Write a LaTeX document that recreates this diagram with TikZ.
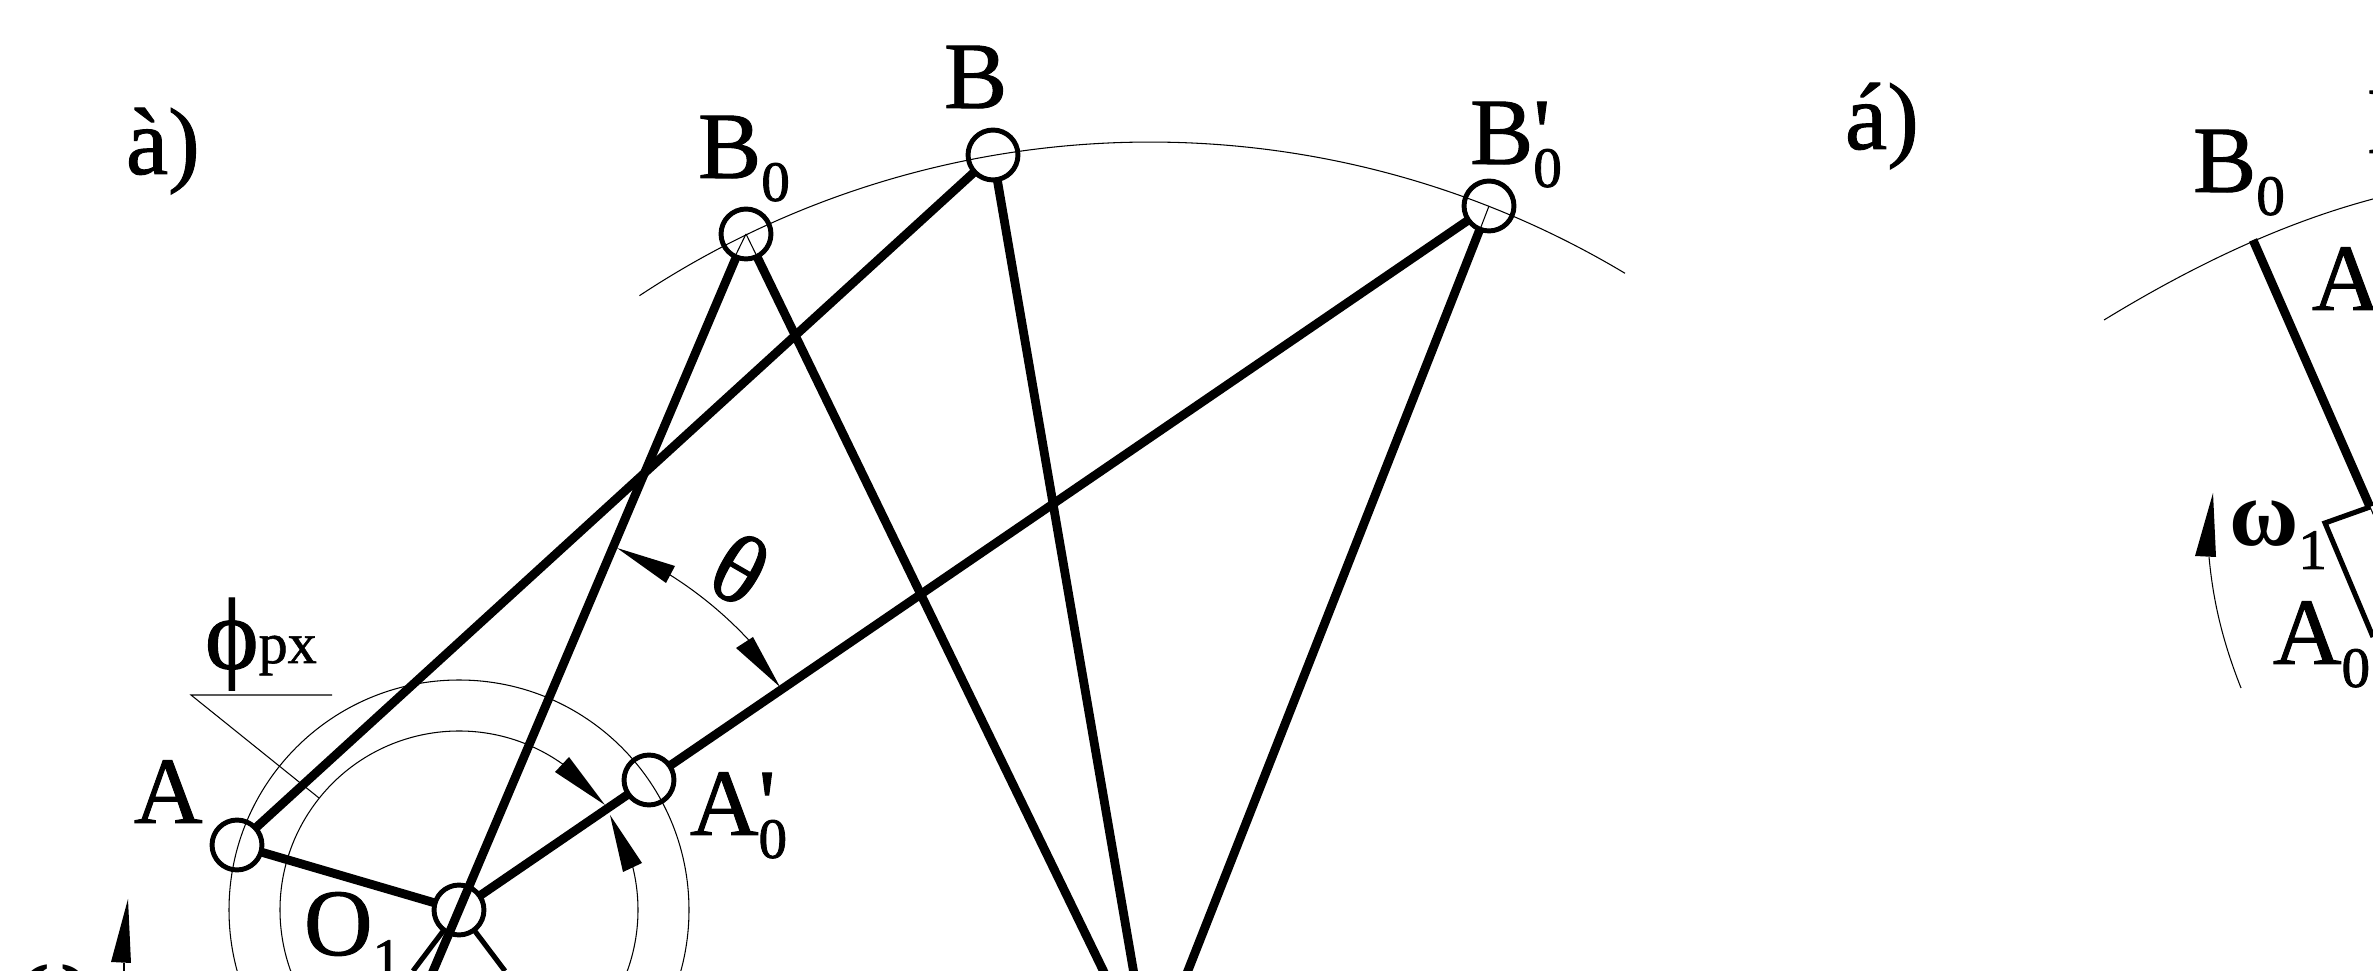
\documentclass[tikz,border=0pt]{standalone}
\usepackage{fontspec}
\setmainfont{Liberation Serif}
\newfontfamily\mainheavy[RawFeature={embolden=1}]{Liberation Serif}
\newfontfamily\subheavy[RawFeature={embolden=1.5}]{Liberation Serif}
\newfontfamily\omegaf{Liberation Serif Bold}
\usetikzlibrary{calc}
\newcommand{\lowz}[1]{\raisebox{-6.5pt}{\subheavy\fontsize{16.2pt}{16.2pt}\selectfont #1}}
\newcommand{\primed}[1]{\rlap{'}\lowz{#1}}
\tikzset{
  lbl/.style={inner sep=0pt,outer sep=0pt,anchor=base west,font=\mainheavy\fontsize{27pt}{27pt}\selectfont},
  heavy/.style={line width=2.5pt,line cap=butt},
  medium/.style={line width=1.45pt},
  hair/.style={line width=0.3pt},
  joint/.style={circle,draw,line width=1.4pt,minimum size=14.2pt,inner sep=0pt,outer sep=0pt},
  tipfill/.style={fill=black,draw=none}
}
\begin{document}
\begin{tikzpicture}[x=0.01cm,y=0.01cm]
\useasboundingbox (0,0) rectangle (2373,-971);
\clip (0,0) rectangle (2373,-971);
% key points
\coordinate (C) at (1150,-1067);
\node[joint] (O1) at (459,-910) {};
\node[joint] (A) at (237,-845) {};
\node[joint] (Ap) at (649,-780) {};
\node[joint] (B0) at (746,-234) {};
\node[joint] (B) at (993,-155) {};
\node[joint] (Bp) at (1489,-206) {};
% thin circles and arcs
\draw[hair] (O1) circle[radius=230];
\draw[hair] ($(O1)+(54.6:179)$) arc[start angle=54.6,end angle=374,radius=179];
\draw[hair] ($(O1)+(58:396)$) arc[start angle=58,end angle=43,radius=396];
\draw[hair] ($(C)+(123.5:925)$) arc[start angle=123.5,end angle=59.1,radius=925];
% hairlines into the joints
\draw[hair] (B0.center) -- (B0.-116);
\draw[hair] (B0.center) -- (B0.-64);
\draw[hair] (Bp.center) -- (Bp.-111);
% links
\draw[heavy] (A) -- (B);
\draw[heavy] (O1) -- (A);
\draw[heavy] (O1) -- (Ap);
\draw[heavy] (Ap) -- (Bp);
\draw[heavy,shorten >=-100pt] (B0) -- (O1);
\coordinate (L1) at (413,-971);
\coordinate (L2) at (505,-971);
\draw[medium] (O1) -- (L1);
\draw[medium] (O1) -- (L2);
\draw[heavy] (B0) -- ($(B0)!1.3!(C)$);
\draw[heavy] (B) -- ($(B)!1.3!(C)$);
\draw[heavy] (Bp) -- ($(Bp)!1.3!(C)$);
% arrowheads
\fill[tipfill] (605,-805) -- (555,-772) -- (569,-757) -- cycle;
\fill[tipfill] (610,-815) -- (623,-872) -- (642,-863) -- cycle;
\fill[tipfill] (617,-548) -- (675,-566) -- (666,-583) -- cycle;
\fill[tipfill] (780,-687) -- (736,-648) -- (753,-637) -- cycle;
\fill[tipfill] (128,-899) -- (111,-962) -- (131,-963) -- cycle;
\fill[tipfill] (2213,-493) -- (2195,-556) -- (2216,-557) -- cycle;
% leader
\coordinate (P1) at (332,-695);
\coordinate (P2) at (191,-695);
\coordinate (P3) at (319,-798);
\draw[hair] (P1) -- (P2) -- (P3);
% omega tails
\coordinate (W1) at (124,-963);
\coordinate (W2) at (124,-971);
\draw[hair] (W1) -- (W2);
\coordinate (R1) at (2209,-557);
\coordinate (R2) at (2213,-600);
\coordinate (R3) at (2241,-688);
\draw[hair] (R1) .. controls (R2) and (2222,-640) .. (R3);
% right part
\coordinate (Q0) at (2253,-240);
\coordinate (Q1) at (2370,-507);
\coordinate (Q2) at (2325,-523);
\coordinate (Q3) at (2373,-637);
\coordinate (Q4) at (2378,-525);
\coordinate (QA) at (2104,-320);
\coordinate (QB) at (2373,-199);
\draw[hair] (QA) .. controls (2194,-265) and (2283,-223) .. (QB);
\draw[heavy] (Q0) -- (Q1);
\draw[hair] (Q1) -- (Q4);
\draw[medium] (Q1) -- (Q2) -- (Q3);
% labels
\node[lbl] (la) at (126,-174) {à)};
\node[lbl] (lb) at (1845,-149) {á)};
\node[lbl] (tA) at (134,-823) {A};
\node[lbl] (tO) at (304,-955) {O\lowz{1}};
\node[lbl] (tAp) at (690,-835) {A\primed{0}};
\node[lbl] (tB0) at (698,-178) {B\lowz{0}};
\node[lbl] (tB) at (944,-108) {B};
\node[lbl] (tBp) at (1470,-164) {B\primed{0}};
\node[lbl] (tphi) at (205,-663) {\raisebox{-1.6pt}{\fontsize{29pt}{29pt}\selectfont ϕ}\fontsize{16.5pt}{16.5pt}\selectfont px};
\node[lbl,anchor=center,rotate=-30,font=\mainheavy\fontsize{28pt}{28pt}\selectfont] (tth) at (740,-569) {θ};
\node[lbl] (tw) at (20,-1010) {{\omegaf ω}\lowz{1}};
\node[lbl] (rB0) at (2193,-192) {B\lowz{0}};
\node[lbl] (rB) at (2367,-153) {B};
\node[lbl] (rA) at (2312,-310) {A};
\node[lbl] (rw) at (2229,-546) {{\omegaf ω}\lowz{1}};
\node[lbl] (rA0) at (2273,-664) {A\lowz{0}};
\end{tikzpicture}
\end{document}
